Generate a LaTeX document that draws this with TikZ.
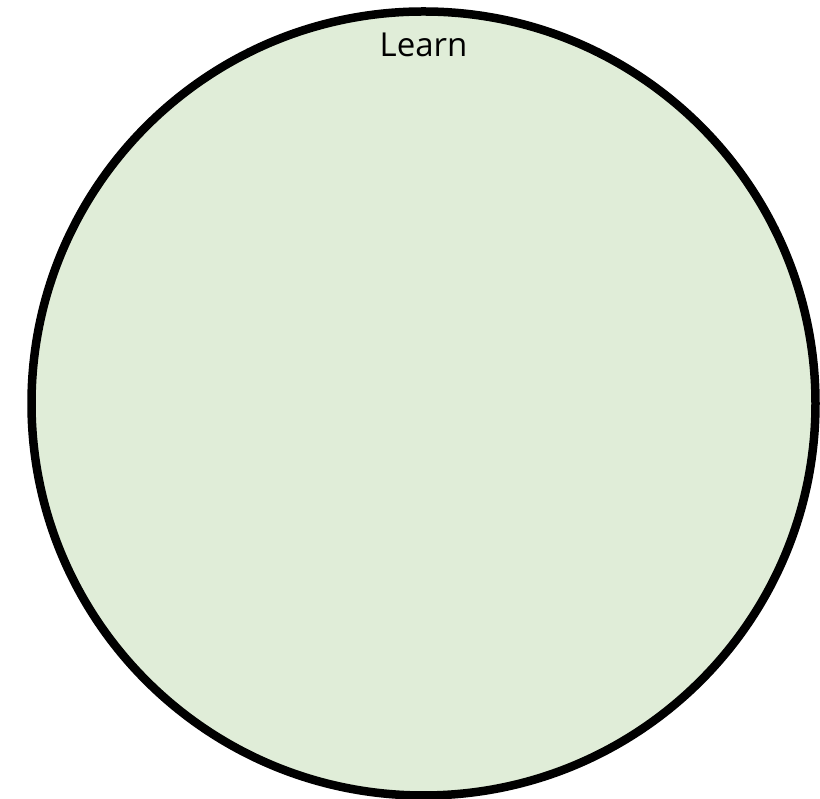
\documentclass[tikz,border=0pt]{standalone}
\usepackage{fontspec}
\setmainfont{Open Sans}
\definecolor{learnfill}{RGB}{224,237,216}
\tikzset{
  bigcircle/.style={circle, draw=black, line width=8.5pt, fill=learnfill, minimum size=784pt, inner sep=0pt},
  lbl/.style={font=\fontsize{33}{36}\selectfont, anchor=base, inner sep=0pt}
}
\begin{document}
\begin{tikzpicture}[x=1pt,y=1pt]
\useasboundingbox (0,0) rectangle (820,799);
\node[bigcircle] (learn) at (423.5,395.5) {};
\node[lbl] (title) at (423.5,742) {Learn};
\end{tikzpicture}
\end{document}
